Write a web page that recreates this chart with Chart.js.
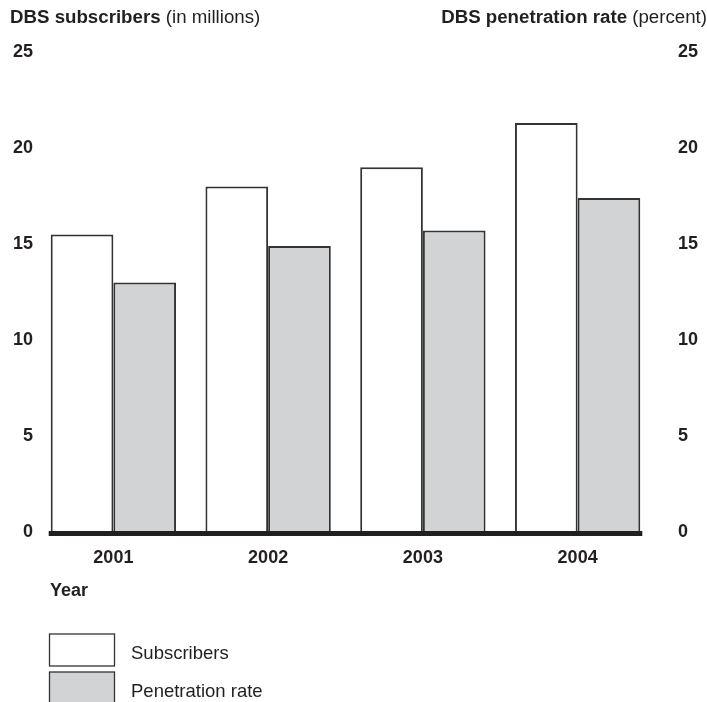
<!DOCTYPE html>
<html>
<head>
<meta charset="utf-8">
<script src="https://cdn.jsdelivr.net/npm/chart.js@4/dist/chart.umd.min.js"></script>
<style>
  html, body { margin: 0; padding: 0; background: #ffffff; }
  #wrap { width: 707px; height: 702px; position: relative; }
</style>
</head>
<body>
<div id="wrap"><canvas id="c" width="707" height="702"></canvas></div>
<script>
// DBS subscribers (millions) and penetration rate (percent), 2001-2004
const years = ['2001', '2002', '2003', '2004'];
const subscribers = [15.5, 18.0, 19.0, 21.3];
const penetration = [13.0, 14.9, 15.7, 17.4];
const seriesNames = ['Subscribers', 'Penetration rate'];
const axisMin = 0;
const axisMax = 25;
const axisStep = 5;

const INK = '#231f20';
const EDGE = '#333333';
const FONT = '"Liberation Sans", Arial, Helvetica, sans-serif';

// Headings, axis name, baseline and legend drawn on the canvas
const decorations = {
  id: 'decorations',
  afterDatasetsDraw(chart) {
    const ctx = chart.ctx;
    const y = chart.scales.y;
    const zero = y.getPixelForValue(0);

    // heavy baseline spanning the bars
    const first = chart.getDatasetMeta(0).data[0];
    const lastMeta = chart.getDatasetMeta(1).data;
    const last = lastMeta[lastMeta.length - 1];
    const x0 = first.x - first.width / 2 - 2;
    const x1 = last.x + last.width / 2 + 2;
    ctx.save();
    ctx.fillStyle = INK;
    ctx.fillRect(x0, zero - 1, x1 - x0, 5);
    ctx.restore();
  },
  afterDraw(chart) {
    const ctx = chart.ctx;
    ctx.save();
    ctx.fillStyle = INK;
    ctx.textBaseline = 'middle';

    const drawPair = (boldText, plainText, x, yPos, align) => {
      ctx.font = 'bold 18.7px ' + FONT;
      const wb = ctx.measureText(boldText).width;
      ctx.font = '18.7px ' + FONT;
      const wp = ctx.measureText(plainText).width;
      const start = align === 'right' ? x - wb - wp : x;
      ctx.textAlign = 'left';
      ctx.font = 'bold 18.7px ' + FONT;
      ctx.fillText(boldText, start, yPos);
      ctx.font = '18.7px ' + FONT;
      ctx.fillText(plainText, start + wb, yPos);
    };
    drawPair('DBS subscribers ', '(in millions)', 10, 18, 'left');
    drawPair('DBS penetration rate ', '(percent)', 707, 18, 'right');

    ctx.font = 'bold 18px ' + FONT;
    ctx.textAlign = 'left';
    ctx.fillText('Year', 50, 591);

    // legend
    const ds = chart.data.datasets;
    const rows = [634, 672];
    ds.forEach((d, i) => {
      ctx.fillStyle = d.backgroundColor;
      ctx.fillRect(49.5, rows[i], 65, 32);
      ctx.strokeStyle = d.borderColor;
      ctx.lineWidth = 1.3;
      ctx.strokeRect(49.5, rows[i], 65, 32);
      ctx.fillStyle = INK;
      ctx.font = '18.5px ' + FONT;
      ctx.fillText(d.label, 131, rows[i] + 20);
    });
    ctx.restore();
  }
};

const tickFont = { family: FONT, size: 18, weight: 'bold' };

new Chart(document.getElementById('c'), {
  type: 'bar',
  data: {
    labels: years,
    datasets: [
      {
        label: seriesNames[0],
        data: subscribers,
        backgroundColor: '#ffffff',
        borderColor: EDGE,
        borderWidth: 2,
        yAxisID: 'y'
      },
      {
        label: seriesNames[1],
        data: penetration,
        backgroundColor: '#d2d3d5',
        borderColor: EDGE,
        borderWidth: 2,
        yAxisID: 'y2'
      }
    ]
  },
  options: {
    responsive: false,
    animation: false,
    devicePixelRatio: 1,
    layout: { padding: { top: 52, bottom: 0, left: 0, right: 0 } },
    datasets: { bar: { categoryPercentage: 0.81, barPercentage: 1.0 } },
    plugins: {
      legend: { display: false },
      tooltip: { enabled: false },
      title: { display: false }
    },
    scales: {
      x: {
        grid: { display: false },
        border: { display: false },
        ticks: { color: INK, font: tickFont, padding: 7 },
        afterFit(scale) { scale.height = 170; }
      },
      y: {
        position: 'left',
        min: axisMin,
        max: axisMax,
        grid: { display: false, drawTicks: false },
        border: { display: false },
        ticks: { stepSize: axisStep, color: INK, font: tickFont, padding: 3 },
        afterFit(scale) { scale.width = 36; }
      },
      y2: {
        position: 'right',
        min: axisMin,
        max: axisMax,
        grid: { display: false, drawTicks: false },
        border: { display: false },
        ticks: { stepSize: axisStep, color: INK, font: tickFont, padding: 23 },
        afterFit(scale) { scale.width = 52; }
      }
    }
  },
  plugins: [decorations]
});
</script>
</body>
</html>
